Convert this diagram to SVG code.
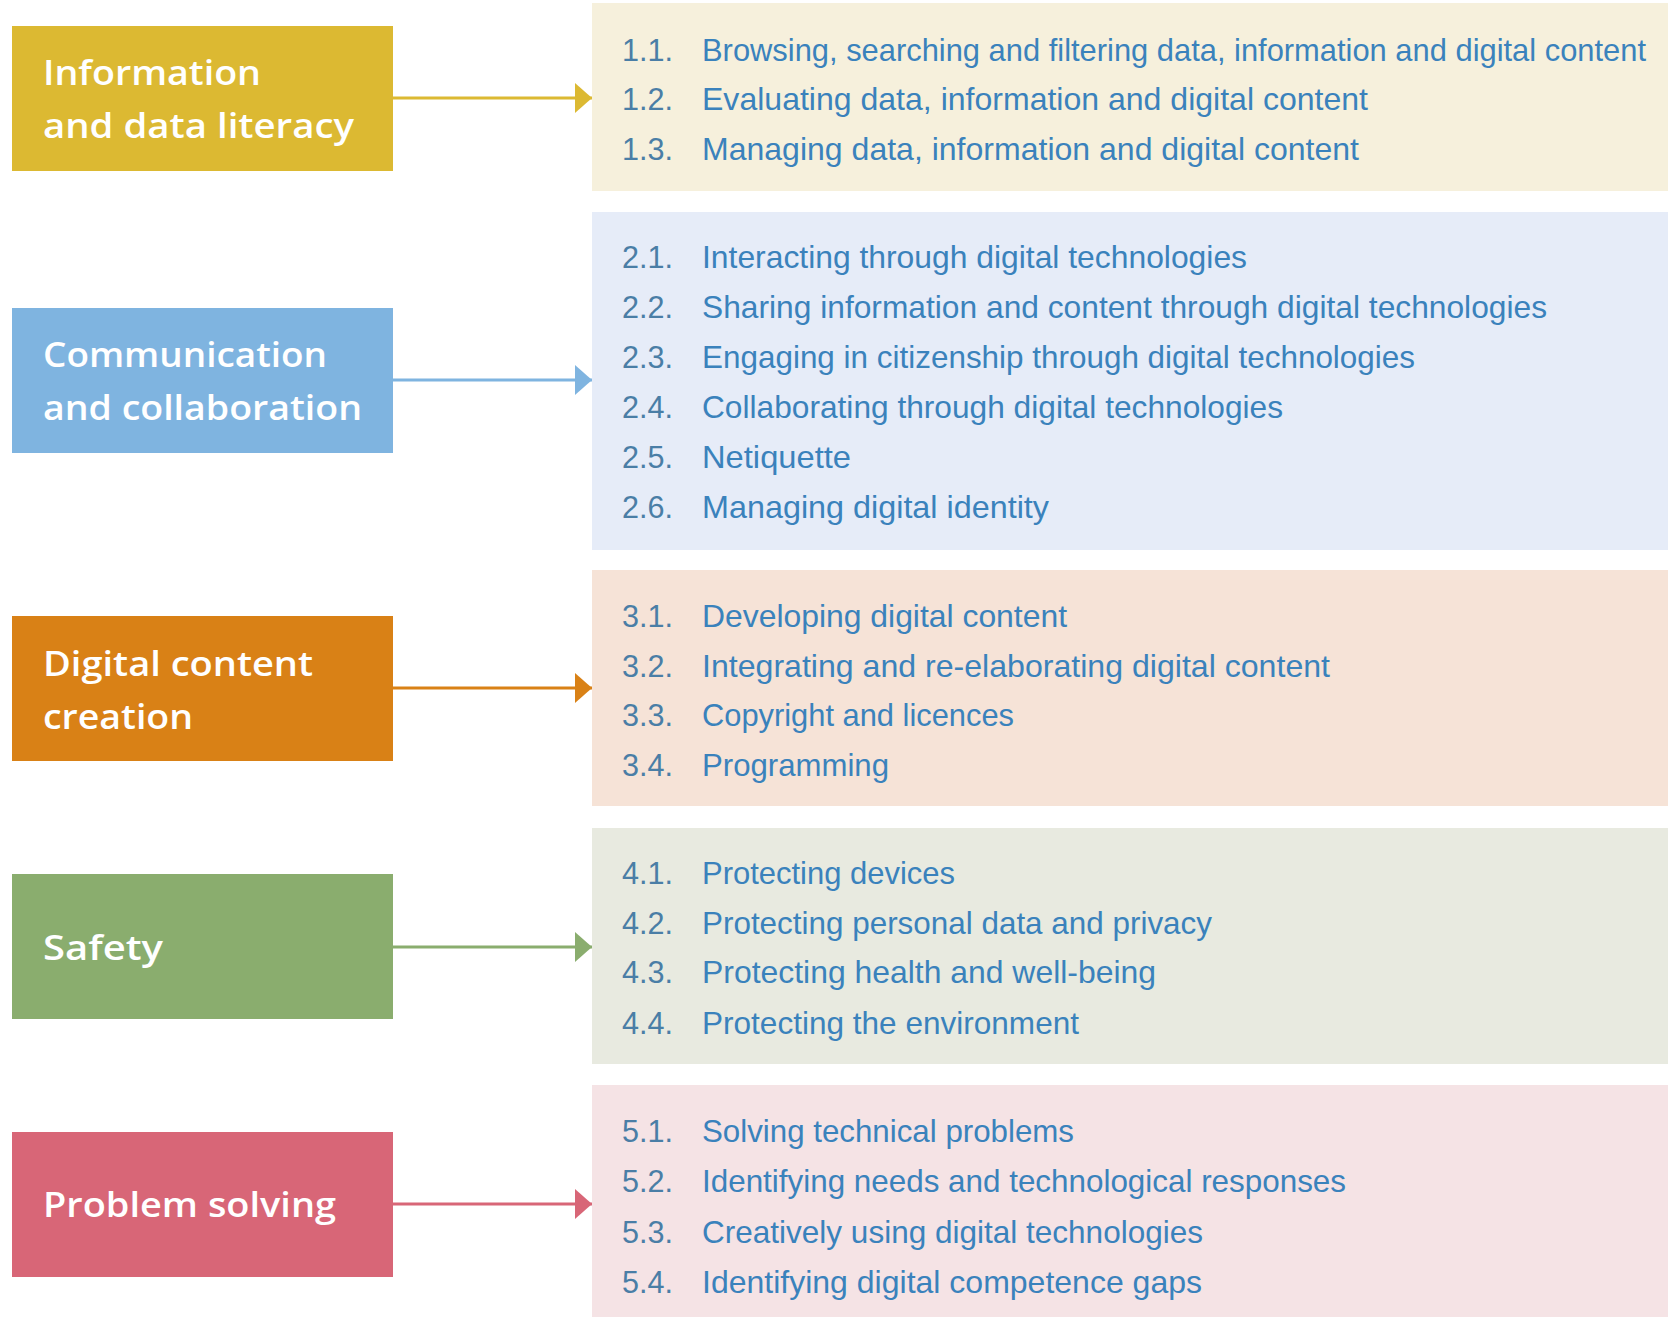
<svg xmlns="http://www.w3.org/2000/svg" width="1668" height="1317" viewBox="0 0 1668 1317">
<style>
.lbl{font-family:"Open Sans","Liberation Sans",Arial,sans-serif;font-weight:600;font-size:35px;fill:#ffffff}
.num{font-family:"Liberation Sans",Arial,sans-serif;font-size:32px;fill:#4a7ea6}
.itm{font-family:"Liberation Sans",Arial,sans-serif;font-size:32px;fill:#3a82bc}
.conn{stroke-width:3;fill:none}
</style>
<defs>
<marker id="ahY" viewBox="0 0 17 30" refX="17" refY="15" markerWidth="17" markerHeight="30" markerUnits="userSpaceOnUse" orient="auto"><path d="M0,0 L17,15 L0,30 Z" fill="#dcb932"/></marker>
<marker id="ahB" viewBox="0 0 17 30" refX="17" refY="15" markerWidth="17" markerHeight="30" markerUnits="userSpaceOnUse" orient="auto"><path d="M0,0 L17,15 L0,30 Z" fill="#7fb4e0"/></marker>
<marker id="ahO" viewBox="0 0 17 30" refX="17" refY="15" markerWidth="17" markerHeight="30" markerUnits="userSpaceOnUse" orient="auto"><path d="M0,0 L17,15 L0,30 Z" fill="#d98116"/></marker>
<marker id="ahG" viewBox="0 0 17 30" refX="17" refY="15" markerWidth="17" markerHeight="30" markerUnits="userSpaceOnUse" orient="auto"><path d="M0,0 L17,15 L0,30 Z" fill="#8aad6e"/></marker>
<marker id="ahP" viewBox="0 0 17 30" refX="17" refY="15" markerWidth="17" markerHeight="30" markerUnits="userSpaceOnUse" orient="auto"><path d="M0,0 L17,15 L0,30 Z" fill="#d86677"/></marker>
</defs>
<rect width="1668" height="1317" fill="#ffffff"/>

<g id="panel1">
<rect x="592" y="3" width="1076" height="188" fill="#f6f0dc"/>
<text class="num" x="622" y="61" textLength="51" lengthAdjust="spacingAndGlyphs">1.1.</text>
<text class="itm" x="702" y="61" textLength="944" lengthAdjust="spacingAndGlyphs">Browsing, searching and filtering data, information and digital content</text>
<text class="num" x="622" y="110" textLength="51" lengthAdjust="spacingAndGlyphs">1.2.</text>
<text class="itm" x="702" y="110" textLength="666" lengthAdjust="spacingAndGlyphs">Evaluating data, information and digital content</text>
<text class="num" x="622" y="160" textLength="51" lengthAdjust="spacingAndGlyphs">1.3.</text>
<text class="itm" x="702" y="160" textLength="657" lengthAdjust="spacingAndGlyphs">Managing data, information and digital content</text>
</g>

<g id="panel2">
<rect x="592" y="212" width="1076" height="338" fill="#e6ecf8"/>
<text class="num" x="622" y="268" textLength="51" lengthAdjust="spacingAndGlyphs">2.1.</text>
<text class="itm" x="702" y="268" textLength="545" lengthAdjust="spacingAndGlyphs">Interacting through digital technologies</text>
<text class="num" x="622" y="318" textLength="51" lengthAdjust="spacingAndGlyphs">2.2.</text>
<text class="itm" x="702" y="318" textLength="845" lengthAdjust="spacingAndGlyphs">Sharing information and content through digital technologies</text>
<text class="num" x="622" y="368" textLength="51" lengthAdjust="spacingAndGlyphs">2.3.</text>
<text class="itm" x="702" y="368" textLength="713" lengthAdjust="spacingAndGlyphs">Engaging in citizenship through digital technologies</text>
<text class="num" x="622" y="418" textLength="51" lengthAdjust="spacingAndGlyphs">2.4.</text>
<text class="itm" x="702" y="418" textLength="581" lengthAdjust="spacingAndGlyphs">Collaborating through digital technologies</text>
<text class="num" x="622" y="468" textLength="51" lengthAdjust="spacingAndGlyphs">2.5.</text>
<text class="itm" x="702" y="468" textLength="149" lengthAdjust="spacingAndGlyphs">Netiquette</text>
<text class="num" x="622" y="518" textLength="51" lengthAdjust="spacingAndGlyphs">2.6.</text>
<text class="itm" x="702" y="518" textLength="347" lengthAdjust="spacingAndGlyphs">Managing digital identity</text>
</g>

<g id="panel3">
<rect x="592" y="570" width="1076" height="236" fill="#f6e3d7"/>
<text class="num" x="622" y="627" textLength="51" lengthAdjust="spacingAndGlyphs">3.1.</text>
<text class="itm" x="702" y="627" textLength="365" lengthAdjust="spacingAndGlyphs">Developing digital content</text>
<text class="num" x="622" y="677" textLength="51" lengthAdjust="spacingAndGlyphs">3.2.</text>
<text class="itm" x="702" y="677" textLength="628" lengthAdjust="spacingAndGlyphs">Integrating and re-elaborating digital content</text>
<text class="num" x="622" y="726" textLength="51" lengthAdjust="spacingAndGlyphs">3.3.</text>
<text class="itm" x="702" y="726" textLength="312" lengthAdjust="spacingAndGlyphs">Copyright and licences</text>
<text class="num" x="622" y="776" textLength="51" lengthAdjust="spacingAndGlyphs">3.4.</text>
<text class="itm" x="702" y="776" textLength="187" lengthAdjust="spacingAndGlyphs">Programming</text>
</g>

<g id="panel4">
<rect x="592" y="828" width="1076" height="236" fill="#e8eae0"/>
<text class="num" x="622" y="884" textLength="51" lengthAdjust="spacingAndGlyphs">4.1.</text>
<text class="itm" x="702" y="884" textLength="253" lengthAdjust="spacingAndGlyphs">Protecting devices</text>
<text class="num" x="622" y="934" textLength="51" lengthAdjust="spacingAndGlyphs">4.2.</text>
<text class="itm" x="702" y="934" textLength="510" lengthAdjust="spacingAndGlyphs">Protecting personal data and privacy</text>
<text class="num" x="622" y="983" textLength="51" lengthAdjust="spacingAndGlyphs">4.3.</text>
<text class="itm" x="702" y="983" textLength="454" lengthAdjust="spacingAndGlyphs">Protecting health and well-being</text>
<text class="num" x="622" y="1034" textLength="51" lengthAdjust="spacingAndGlyphs">4.4.</text>
<text class="itm" x="702" y="1034" textLength="377" lengthAdjust="spacingAndGlyphs">Protecting the environment</text>
</g>

<g id="panel5">
<rect x="592" y="1085" width="1076" height="232" fill="#f5e3e5"/>
<text class="num" x="622" y="1142" textLength="51" lengthAdjust="spacingAndGlyphs">5.1.</text>
<text class="itm" x="702" y="1142" textLength="372" lengthAdjust="spacingAndGlyphs">Solving technical problems</text>
<text class="num" x="622" y="1192" textLength="51" lengthAdjust="spacingAndGlyphs">5.2.</text>
<text class="itm" x="702" y="1192" textLength="644" lengthAdjust="spacingAndGlyphs">Identifying needs and technological responses</text>
<text class="num" x="622" y="1243" textLength="51" lengthAdjust="spacingAndGlyphs">5.3.</text>
<text class="itm" x="702" y="1243" textLength="501" lengthAdjust="spacingAndGlyphs">Creatively using digital technologies</text>
<text class="num" x="622" y="1293" textLength="51" lengthAdjust="spacingAndGlyphs">5.4.</text>
<text class="itm" x="702" y="1293" textLength="500" lengthAdjust="spacingAndGlyphs">Identifying digital competence gaps</text>
</g>

<g id="box1">
<rect x="12" y="26" width="381" height="145" fill="#dcb932"/>
<text class="lbl" x="43" y="85" textLength="218" lengthAdjust="spacingAndGlyphs">Information</text>
<text class="lbl" x="43" y="138" textLength="311" lengthAdjust="spacingAndGlyphs">and data literacy</text>
</g>
<g id="box2">
<rect x="12" y="308" width="381" height="145" fill="#7fb4e0"/>
<text class="lbl" x="43" y="367" textLength="284" lengthAdjust="spacingAndGlyphs">Communication</text>
<text class="lbl" x="43" y="420" textLength="319" lengthAdjust="spacingAndGlyphs">and collaboration</text>
</g>
<g id="box3">
<rect x="12" y="616" width="381" height="145" fill="#d98116"/>
<text class="lbl" x="43" y="676" textLength="270" lengthAdjust="spacingAndGlyphs">Digital content</text>
<text class="lbl" x="43" y="729" textLength="150" lengthAdjust="spacingAndGlyphs">creation</text>
</g>
<g id="box4">
<rect x="12" y="874" width="381" height="145" fill="#8aad6e"/>
<text class="lbl" x="43" y="960" textLength="120" lengthAdjust="spacingAndGlyphs">Safety</text>
</g>
<g id="box5">
<rect x="12" y="1132" width="381" height="145" fill="#d86677"/>
<text class="lbl" x="43" y="1217" textLength="293" lengthAdjust="spacingAndGlyphs">Problem solving</text>
</g>

<g id="connectors">
<line class="conn" x1="393" y1="98" x2="592" y2="98" stroke="#dcb932" marker-end="url(#ahY)"/>
<line class="conn" x1="393" y1="380" x2="592" y2="380" stroke="#7fb4e0" marker-end="url(#ahB)"/>
<line class="conn" x1="393" y1="688" x2="592" y2="688" stroke="#d98116" marker-end="url(#ahO)"/>
<line class="conn" x1="393" y1="947" x2="592" y2="947" stroke="#8aad6e" marker-end="url(#ahG)"/>
<line class="conn" x1="393" y1="1204" x2="592" y2="1204" stroke="#d86677" marker-end="url(#ahP)"/>
</g>
</svg>
